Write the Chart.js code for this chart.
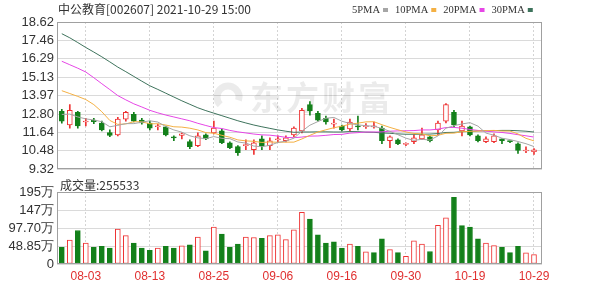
<!DOCTYPE html>
<html>
<head>
<meta charset="utf-8">
<script src="https://cdn.jsdelivr.net/npm/chart.js@4.4.0/dist/chart.umd.min.js"></script>
<style>
  html, body { margin: 0; padding: 0; background: #fff; width: 600px; height: 286px; overflow: hidden; }
  canvas { position: absolute; left: 0; }
</style>
</head>
<body>
<canvas id="k" width="600" height="180" style="top:0"></canvas>
<canvas id="v" width="600" height="108" style="top:178px"></canvas>
<script>
// trading days shown
var dates = ['07-29','07-30','08-02','08-03','08-04','08-05','08-06','08-09','08-10','08-11',
  '08-12','08-13','08-16','08-17','08-18','08-19','08-20','08-23','08-24','08-25',
  '08-26','08-27','08-30','08-31','09-01','09-02','09-03','09-06','09-07','09-08',
  '09-09','09-10','09-13','09-14','09-15','09-16','09-17','09-22','09-23','09-24',
  '09-27','09-28','09-29','09-30','10-08','10-11','10-12','10-13','10-14','10-15',
  '10-18','10-19','10-20','10-21','10-22','10-25','10-26','10-27','10-28','10-29'];

// OHLC
var open = [12.98,12.11,12.92,12.30,12.42,12.23,11.64,11.49,12.48,12.79,
  12.42,12.23,12.00,11.99,11.36,11.45,11.06,10.81,11.49,11.61,
  11.74,10.99,10.75,10.81,10.56,11.24,10.81,11.18,11.12,11.49,
  11.74,13.41,12.85,12.54,12.17,12.05,11.86,12.05,12.00,11.99,
  11.92,11.12,11.18,10.88,11.06,11.24,11.37,11.80,12.36,12.92,
  11.74,11.99,11.43,11.06,11.06,11.24,11.08,10.93,10.47,10.42];
var high = [13.10,13.41,12.98,12.54,12.54,12.36,11.80,12.60,12.98,12.92,
  12.54,12.36,12.17,12.05,11.43,11.61,11.18,11.61,11.55,12.36,
  11.86,11.05,10.81,11.18,11.18,11.43,11.30,11.43,11.43,12.00,
  13.16,13.60,12.98,12.67,12.48,12.10,12.48,12.67,12.20,12.30,
  12.05,11.43,11.24,10.99,11.49,11.92,11.43,12.36,13.47,13.04,
  12.36,12.05,11.49,11.37,11.55,11.24,11.10,10.99,10.74,10.62];
var low = [12.23,11.92,11.92,12.05,12.20,11.74,11.37,11.43,12.36,12.30,
  12.17,11.80,11.80,11.43,11.12,11.24,10.62,10.75,11.18,11.55,
  10.93,10.62,10.19,10.56,10.25,10.56,10.56,10.99,11.05,11.37,
  11.61,12.73,12.36,12.17,11.92,11.74,11.74,11.80,11.90,11.92,
  10.93,10.68,10.87,10.81,10.93,11.18,11.05,11.49,12.24,11.99,
  11.43,11.43,11.05,10.99,10.99,10.93,11.00,10.31,10.37,10.25];
var close = [12.36,13.04,12.05,12.36,12.33,11.80,11.45,12.48,12.92,12.36,
  12.24,11.92,12.05,11.49,11.30,11.55,10.75,11.43,11.24,11.92,
  10.99,10.68,10.37,10.87,10.99,10.81,11.12,11.24,11.30,11.92,
  13.04,13.00,12.42,12.30,12.23,11.80,12.30,11.99,12.05,12.02,
  11.12,11.37,10.93,10.95,11.30,11.49,11.12,12.23,13.41,12.11,
  12.05,11.49,11.12,11.24,11.43,11.12,11.06,10.50,10.53,10.54];

// moving averages
var ma5 = [12.78,12.80,12.62,12.50,12.43,12.32,12.00,12.09,12.20,12.20,
  12.29,12.38,12.30,12.01,11.80,11.66,11.43,11.30,11.25,11.38,
  11.27,11.25,11.04,10.97,10.78,10.74,10.83,11.01,11.09,11.28,
  11.72,12.10,12.33,12.54,12.59,12.35,12.21,12.12,12.07,12.03,
  11.90,11.71,11.50,11.28,11.14,11.21,11.16,11.42,11.91,12.07,
  12.18,12.26,12.04,11.60,11.47,11.28,11.19,11.07,10.93,10.75];
var ma10 = [14.28,14.10,13.92,13.72,13.40,12.95,12.40,12.15,12.18,12.32,
  12.31,12.19,12.19,12.11,12.00,11.98,11.91,11.80,11.63,11.59,
  11.46,11.34,11.17,11.11,11.08,11.01,11.04,11.02,11.03,11.03,
  11.23,11.46,11.67,11.81,11.94,12.04,12.16,12.23,12.31,12.32,
  12.13,11.96,11.81,11.67,11.58,11.55,11.43,11.46,11.59,11.60,
  11.69,11.71,11.73,11.76,11.77,11.73,11.73,11.55,11.27,11.11];
var ma20 = [16.14,15.92,15.70,15.46,15.10,14.72,14.35,13.97,13.70,13.45,
  13.25,13.04,12.88,12.74,12.62,12.50,12.38,12.22,12.08,11.95,
  11.89,11.77,11.68,11.61,11.54,11.49,11.47,11.41,11.33,11.31,
  11.35,11.41,11.42,11.46,11.51,11.52,11.60,11.63,11.67,11.67,
  11.68,11.72,11.74,11.75,11.76,11.80,11.80,11.85,11.95,11.96,
  11.91,11.83,11.77,11.72,11.68,11.64,11.58,11.50,11.43,11.35];
var ma30 = [17.88,17.62,17.32,17.01,16.72,16.42,16.10,15.77,15.48,15.18,
  14.88,14.59,14.36,14.12,13.88,13.64,13.42,13.20,13.02,12.86,
  12.70,12.54,12.38,12.24,12.11,12.00,11.90,11.80,11.72,11.65,
  11.67,11.67,11.68,11.68,11.67,11.67,11.70,11.69,11.66,11.65,
  11.61,11.59,11.55,11.53,11.53,11.53,11.54,11.57,11.64,11.65,
  11.69,11.71,11.74,11.75,11.76,11.77,11.77,11.75,11.72,11.67];

// volume, in 万 (x10000)
var volume = [45,65,91,57,45,48,43,95,77,57,
  43,37,43,48,43,49,52,73,36,100,
  81,45,54,73,72,70,77,79,66,93,
  140,122,79,57,60,43,54,48,33,31,
  68,39,31,21,63,54,34,105,125,181,
  104,100,68,57,50,45,31,48,30,25.5533];

var priceTicks = [9.32,10.4825,11.645,12.8075,13.97,15.1325,16.295,17.4575,18.62];
var priceLabels = ['9.32','10.48','11.64','12.80','13.97','15.13','16.29','17.46','18.62'];
var volTicks = [0,48.85,97.70,146.55,195.40];
var volLabels = ['0','48.85万','97.70万','147万','195万'];
var dateTicks = [3,11,19,27,35,43,51,59];

var RED = '#ee3333', GREEN = '#13801a';
var maNames = ['5PMA','10PMA','20PMA','30PMA'];
var maColors = ['#a6a6a6','#f4b043','#e646e6','#3e735c'];

var gridV = { color: '#d4d4d4', drawTicks: false, offset: false, borderDash: [2,2] };
function pts(arr) { return arr.map(function(v, i) { return {x: i, y: v}; }); }

var frame = {
  id: 'frame',
  afterDraw: function(c) {
    var a = c.chartArea, g = c.ctx;
    g.save();
    g.strokeStyle = '#a0a0a0';
    g.lineWidth = 1;
    g.strokeRect(Math.round(a.left) + 0.5, Math.round(a.top) + 0.5,
      Math.round(a.right - a.left) - 1, Math.round(a.bottom - a.top) - 1);
    g.restore();
  }
};

var kText = {
  id: 'kText',
  beforeDatasetsDraw: function(c) {
    // faint watermark
    var g = c.ctx;
    g.save();
    g.fillStyle = g.strokeStyle = 'rgba(0,0,0,0.08)';
    g.lineWidth = 7;
    g.beginPath();
    g.arc(228, 97, 11, Math.PI * 0.75, Math.PI * 2.1);
    g.stroke();
    g.font = 'bold 33px "Noto Sans CJK SC"';
    g.textBaseline = 'middle';
    var w = ['东','方','财','富'];
    for (var i = 0; i < w.length; i++) g.fillText(w[i], 250 + i * 36, 97);
    g.restore();
  },
  afterDraw: function(c) {
    var g = c.ctx;
    g.save();
    g.textBaseline = 'middle';
    g.fillStyle = '#333';
    g.font = '12px "Noto Sans CJK SC"';
    g.fillText('中公教育[002607] 2021-10-29 15:00', 58, 9);
    g.font = '10.5px "Liberation Serif"';
    var x = 352;
    for (var i = 0; i < maNames.length; i++) {
      g.fillStyle = '#333';
      g.fillText(maNames[i], x, 10);
      x += g.measureText(maNames[i]).width + 3;
      g.fillStyle = maColors[i];
      g.fillRect(x, 8, 5, 4);
      x += 12;
    }
    g.restore();
  }
};

var vText = {
  id: 'vText',
  afterDraw: function(c) {
    var g = c.ctx;
    g.save();
    g.textBaseline = 'middle';
    g.fillStyle = '#333';
    g.font = '12px "Noto Sans CJK SC"';
    g.fillText('成交量:' + Math.round(volume[volume.length - 1] * 10000), 60, 7);
    g.restore();
  }
};

var candleUp = close.map(function(c, i) { return c >= open[i]; });

new Chart(document.getElementById('k'), {
  type: 'bar',
  data: {
    datasets: [
      { type: 'line', label: maNames[0], data: pts(ma5), borderColor: maColors[0], borderWidth: 1, pointRadius: 0, order: 0 },
      { type: 'line', label: maNames[1], data: pts(ma10), borderColor: maColors[1], borderWidth: 1, pointRadius: 0, order: 0 },
      { type: 'line', label: maNames[2], data: pts(ma20), borderColor: maColors[2], borderWidth: 1, pointRadius: 0, order: 0 },
      { type: 'line', label: maNames[3], data: pts(ma30), borderColor: maColors[3], borderWidth: 1, pointRadius: 0, order: 0 },
      {
        label: 'body',
        data: open.map(function(o, i) { return {x: i, y: [o, close[i]]}; }),
        backgroundColor: candleUp.map(function(u) { return u ? '#fff' : GREEN; }),
        borderColor: candleUp.map(function(u) { return u ? RED : GREEN; }),
        borderWidth: 1, borderSkipped: false, barThickness: 5, minBarLength: 1,
        grouped: false, order: 1
      },
      {
        label: 'wick',
        data: low.map(function(l, i) { return {x: i, y: [l, high[i]]}; }),
        backgroundColor: candleUp.map(function(u) { return u ? RED : GREEN; }),
        barThickness: 1, grouped: false, order: 2
      }
    ]
  },
  options: {
    responsive: false, animation: false, events: [],
    layout: { padding: { top: 22, right: 58, bottom: 8, left: 0 } },
    plugins: { legend: { display: false }, tooltip: { enabled: false } },
    scales: {
      x: {
        type: 'linear', min: -0.6, max: 60, offset: false,
        grid: gridV, border: { display: false, dash: [2,2] },
        ticks: { display: false },
        afterBuildTicks: function(s) { s.ticks = dateTicks.map(function(v) { return {value: v}; }); },
        afterFit: function(s) { s.height = 0; }
      },
      y: {
        min: 9.32, max: 18.62,
        grid: { color: '#dadada', drawTicks: false },
        border: { display: false },
        ticks: {
          padding: 3, color: '#333', autoSkip: false, font: { family: 'Liberation Sans', size: 13 },
          callback: function(v, i) { return priceLabels[i]; }
        },
        afterBuildTicks: function(s) { s.ticks = priceTicks.map(function(v) { return {value: v}; }); },
        afterFit: function(s) { s.width = 57; }
      }
    }
  },
  plugins: [kText, frame]
});

new Chart(document.getElementById('v'), {
  type: 'bar',
  data: {
    datasets: [{
      label: '成交量',
      data: pts(volume),
      backgroundColor: close.map(function(c, i) { return (i > 0 && c > close[i - 1]) ? '#fff' : GREEN; }),
      borderColor: close.map(function(c, i) { return (i > 0 && c > close[i - 1]) ? RED : GREEN; }),
      borderWidth: 1, borderSkipped: false, barThickness: 5
    }]
  },
  options: {
    responsive: false, animation: false, events: [],
    layout: { padding: { top: 14, right: 58, bottom: 0, left: 0 } },
    plugins: { legend: { display: false }, tooltip: { enabled: false } },
    scales: {
      x: {
        type: 'linear', min: -0.6, max: 60, offset: false,
        grid: gridV, border: { display: false, dash: [2,2] },
        ticks: {
          padding: 5, color: '#e03030', maxRotation: 0, autoSkip: false,
          font: { family: 'Liberation Sans', size: 12 },
          callback: function(v) { return dates[v]; }
        },
        afterBuildTicks: function(s) { s.ticks = dateTicks.map(function(v) { return {value: v}; }); },
        afterFit: function(s) { s.height = 22; }
      },
      y: {
        min: 0, max: 195.4,
        grid: { color: '#dadada', drawTicks: false },
        border: { display: false },
        ticks: {
          padding: 3, color: '#333', autoSkip: false, font: { family: 'Liberation Sans', size: 13 },
          callback: function(v, i) { return volLabels[i]; }
        },
        afterBuildTicks: function(s) { s.ticks = volTicks.map(function(v) { return {value: v}; }); },
        afterFit: function(s) { s.width = 57; }
      }
    }
  },
  plugins: [vText, frame]
});
</script>
</body>
</html>
